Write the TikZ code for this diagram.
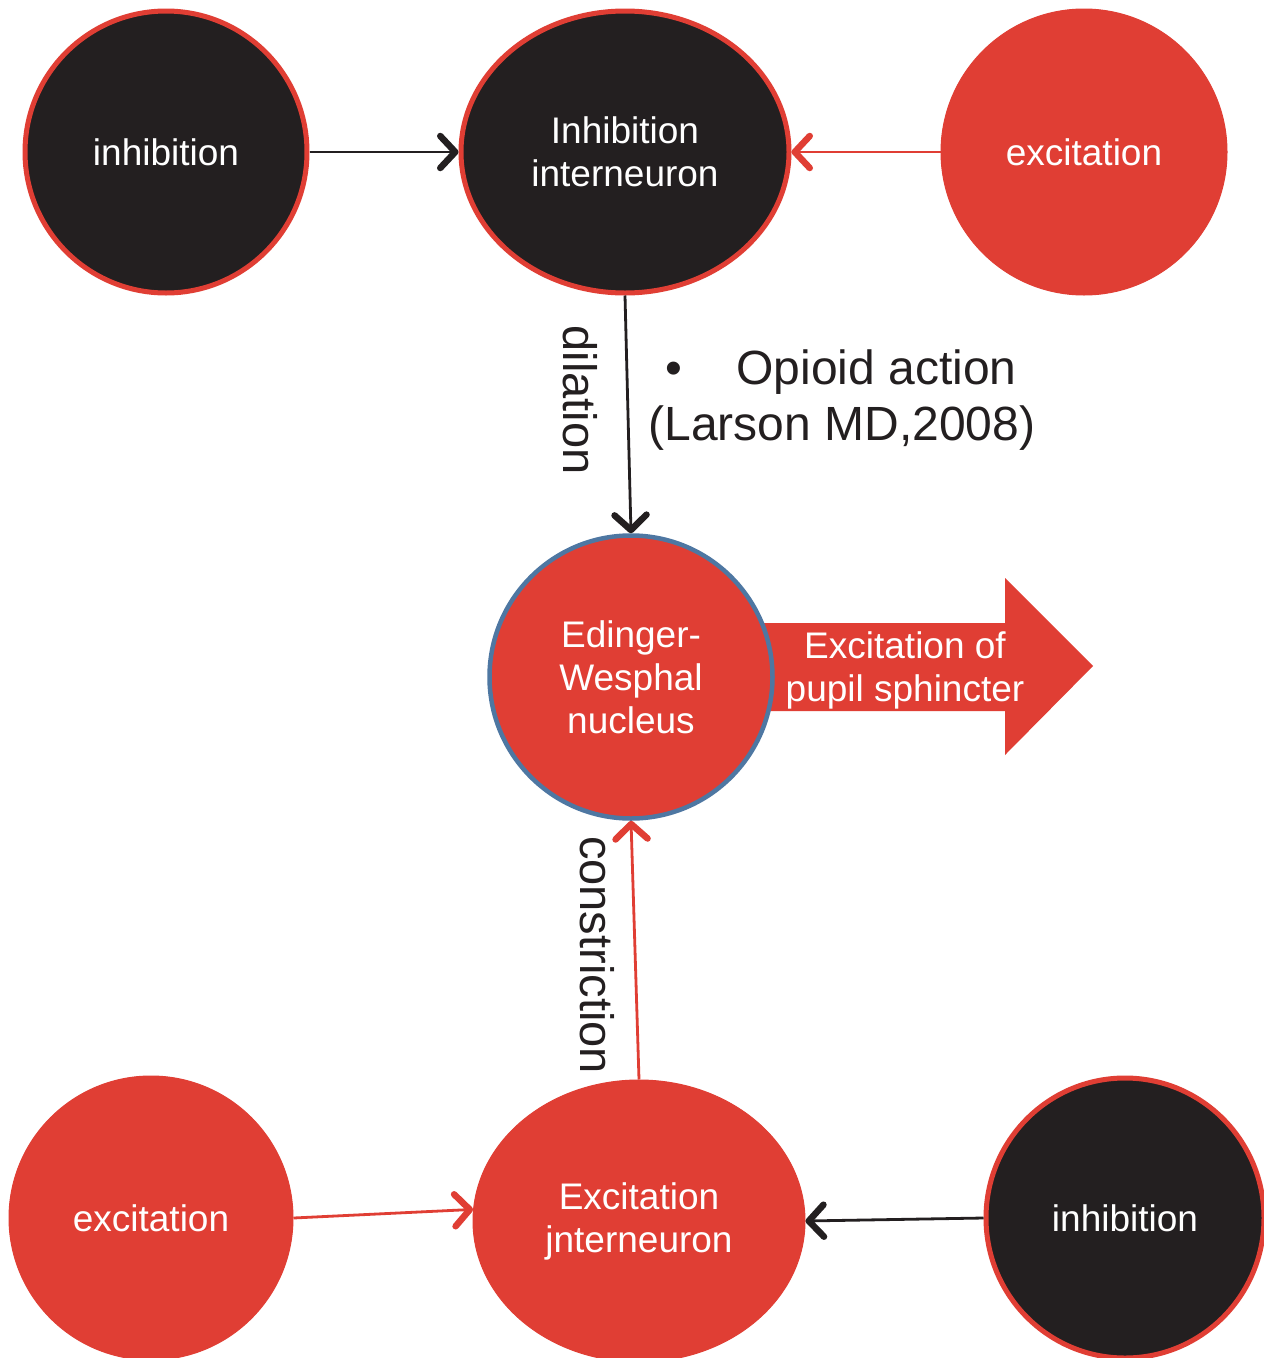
\documentclass[tikz,border=0pt]{standalone}
\usepackage{fontspec}
\setmainfont{Liberation Sans}
\usetikzlibrary{shapes.geometric,arrows.meta}
\definecolor{nred}{HTML}{E03E34}
\definecolor{nblack}{HTML}{231F20}
\definecolor{nblue}{HTML}{4E77A2}
\begin{document}
\begin{tikzpicture}[x=1pt,y=-1pt,
  txt/.style={font=\fontsize{37}{43}\selectfont, text=white, align=center},
  blk/.style={txt, ellipse, fill=nblack, draw=nred, line width=5pt, inner sep=0pt},
  rd/.style={txt, ellipse, fill=nred, draw=nred, line width=1pt, inner sep=0pt},
  tip/.style={-{Straight Barb[length=15pt,width=32pt,line width=6.5pt,round]}},
  blkarrow/.style={tip, draw=nblack, line width=2.8pt},
  redarrow/.style={tip, draw=nred, line width=2.8pt},
  side/.style={font=\fontsize{47}{52}\selectfont, text=nblack, rotate=-90}
]
\useasboundingbox (0,0) rectangle (1264,1358);
\fill[white] (0,0) rectangle (1264,1358);

% top row
\node[blk, minimum width=282pt, minimum height=282pt] (inh1) at (166,152) {inhibition};
\node[blk, minimum width=328pt, minimum height=282pt] (inhint) at (625,152) {Inhibition\\interneuron};
\node[rd, minimum width=286pt, minimum height=286pt] (exc1) at (1084,152) {excitation};

\draw[blkarrow] (inh1.east) -- (inhint.west);
\draw[redarrow] (exc1.west) -- (inhint.east);

% big arrow behind EW nucleus
\fill[nred] (720,623) -- (1005,623) -- (1005,578) -- (1093,666) -- (1005,755) -- (1005,711) -- (720,711) -- cycle;
\node[txt] (pupil) at (905,670) {Excitation of\\pupil sphincter};

% EW nucleus
\node[txt, circle, fill=nred, draw=nblue, line width=4.5pt, inner sep=0pt, minimum size=283pt] (ew) at (631,677) {Edinger-\\Wesphal\\nucleus};

\draw[blkarrow] (inhint.south) -- (ew.north);
\node[side] (dil) at (580,400) {dilation};

\node[font=\fontsize{48}{56}\selectfont, text=nblack, align=left, anchor=west] (opioid) at (645,400)
  {\hspace*{17pt}\textbullet\hspace{54pt}Opioid action\\(Larson MD,2008)};

% bottom row
\node[rd, minimum width=284pt, minimum height=284pt] (exc2) at (151,1218) {excitation};
\node[rd, minimum width=332pt, minimum height=282pt] (excint) at (639,1221) {Excitation\\jnterneuron};
\node[blk, minimum width=278pt, minimum height=280pt] (inh2) at (1125,1218) {inhibition};

\draw[redarrow] (exc2.east) -- (excint.176);
\draw[blkarrow] (inh2.west) -- (excint.east);
\draw[redarrow] (excint.north) -- (ew.south);
\node[side] (con) at (597,955) {constriction};
\end{tikzpicture}
\end{document}
